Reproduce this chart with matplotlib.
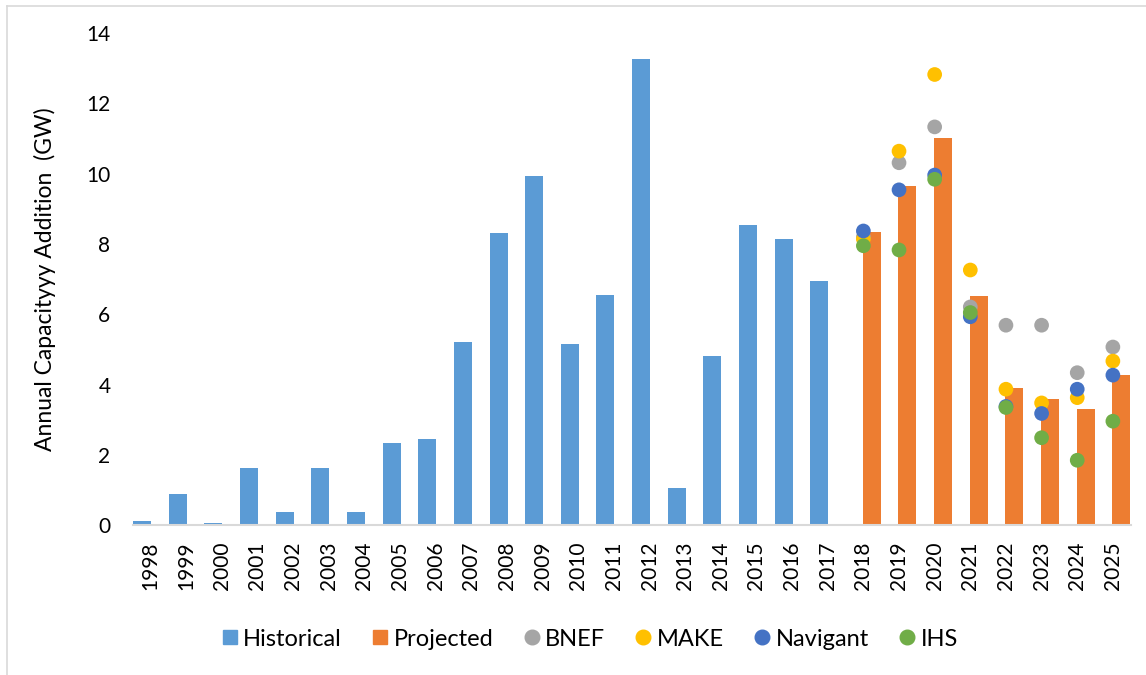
import matplotlib
matplotlib.use('Agg')
import matplotlib.pyplot as plt
from matplotlib.lines import Line2D
import numpy as np

plt.rcParams['font.family'] = ['Lato', 'DejaVu Sans']

years = [str(y) for y in range(1998, 2026)]
historical = [0.11, 0.88, 0.06, 1.64, 0.37, 1.64, 0.37, 2.33, 2.44, 5.22,
              8.31, 9.92, 5.17, 6.56, 13.26, 1.06, 4.81, 8.53, 8.13, 6.96]
projected = [8.35, 9.66, 11.0, 6.53, 3.91, 3.6, 3.32, 4.27]
bnef = [8.2, 10.31, 11.33, 6.21, 5.69, 5.69, 4.34, 5.07]
make = [8.14, 10.64, 12.82, 7.26, 3.87, 3.48, 3.63, 4.67]
navigant = [8.37, 9.54, 9.96, 5.93, 3.38, 3.18, 3.87, 4.27]
ihs = [7.95, 7.83, 9.84, 6.05, 3.35, 2.49, 1.85, 2.96]

C_HIST = '#5B9BD5'
C_PROJ = '#ED7D31'
C_BNEF = '#A5A5A5'
C_MAKE = '#FFC000'
C_NAV = '#4472C4'
C_IHS = '#70AD47'

W, H = 1146, 675
fig = plt.figure(figsize=(W / 100, H / 100), dpi=100)
ax_left, ax_right, ax_top, ax_bot = 132.7, 1130.7, 33, 525.3
ax = fig.add_axes([ax_left / W, 1 - ax_bot / H, (ax_right - ax_left) / W, (ax_bot - ax_top) / H])

n_hist = len(historical)
x_all = np.arange(len(years))
x_hist = x_all[:n_hist]
x_proj = x_all[n_hist:]
bw = 0.505
off = 0.236

ax.bar(x_hist - off, historical, width=bw, color=C_HIST, zorder=2)
ax.bar(x_proj + off, projected, width=bw, color=C_PROJ, zorder=2)

ms = 112
for vals, col in [(bnef, C_BNEF), (make, C_MAKE), (navigant, C_NAV), (ihs, C_IHS)]:
    ax.scatter(x_proj, vals, s=ms, color=col, edgecolors='none', zorder=3)

ax.set_xlim(-0.5, len(years) - 0.5)
ax.set_ylim(0, 14)
ax.set_yticks(np.arange(0, 15, 2))
ax.set_xticks(x_all)
ax.set_xticklabels(years, rotation=90, fontsize=15, color='#000000')
ax.tick_params(axis='y', labelsize=15, length=0, pad=16, labelcolor='#000000')
ax.tick_params(axis='x', length=0, pad=12)

for s in ['top', 'right', 'left']:
    ax.spines[s].set_visible(False)
ax.spines['bottom'].set_color('#D9D9D9')
ax.spines['bottom'].set_linewidth(1.5)

ax.set_ylabel('Annual Capacityyy Addition  (GW)', fontsize=16.5, color='#000000')
ax.yaxis.set_label_coords((45 - ax_left) / (ax_right - ax_left), 0.5)
ax.yaxis.label.set_verticalalignment('center')

handles = [
    Line2D([], [], marker='s', linestyle='none', color=C_HIST, markersize=10.5),
    Line2D([], [], marker='s', linestyle='none', color=C_PROJ, markersize=10.5),
    Line2D([], [], marker='o', linestyle='none', color=C_BNEF, markersize=10.5),
    Line2D([], [], marker='o', linestyle='none', color=C_MAKE, markersize=10.5),
    Line2D([], [], marker='o', linestyle='none', color=C_NAV, markersize=10.5),
    Line2D([], [], marker='o', linestyle='none', color=C_IHS, markersize=10.5),
]
labels = ['Historical', 'Projected', 'BNEF', 'MAKE', 'Navigant', 'IHS']
fig.legend(handles, labels, loc='center', bbox_to_anchor=(590 / W, 1 - 639 / H),
           ncol=6, frameon=False, fontsize=17, handlelength=0.64, handletextpad=0.25,
           columnspacing=1.3, borderaxespad=0)

# chart area border (light gray)
fig.add_artist(Line2D([7 / W, 7 / W], [0, 1 - 6 / H], transform=fig.transFigure,
                      color='#D9D9D9', linewidth=1.2))
fig.add_artist(Line2D([7 / W, 1], [1 - 6 / H, 1 - 6 / H], transform=fig.transFigure,
                      color='#D9D9D9', linewidth=1.2))

fig.savefig('out.png', dpi=100)
